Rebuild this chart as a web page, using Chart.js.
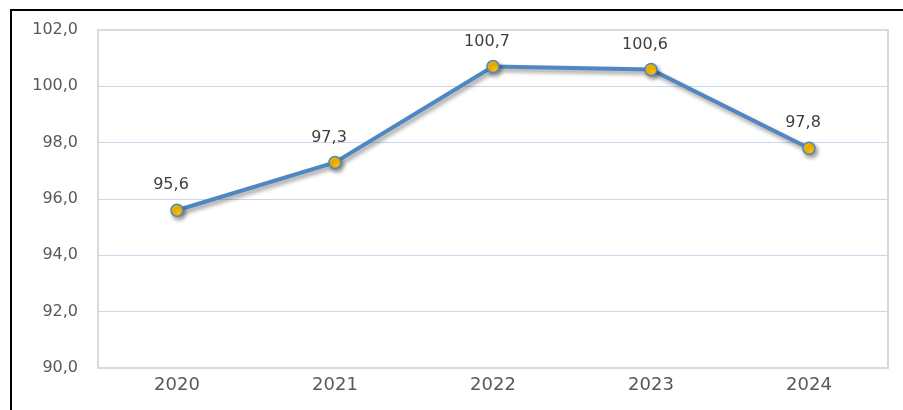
<!DOCTYPE html>
<html><head><meta charset="utf-8">
<script src="https://cdn.jsdelivr.net/npm/chart.js@4/dist/chart.umd.min.js"></script>
<style>
html,body{margin:0;padding:0;background:#fff;}
#wrap{position:relative;width:903px;height:410px;}
#frame{position:absolute;left:10px;top:9px;right:-5px;bottom:-5px;border-left:2px solid #000;border-top:2px solid #000;pointer-events:none;}
</style>
</head><body>
<div id="wrap"><canvas id="c" width="903" height="410"></canvas><div id="frame"></div></div>
<script>
const categories = ['2020','2021','2022','2023','2024'];
const values = [95.6, 97.3, 100.7, 100.6, 97.8];
const yTicks = [90, 92, 94, 96, 98, 100, 102];

const fmt = v => v.toFixed(1).replace('.', ',');

const shadowPlugin = {
  id: 'shadowLine',
  beforeDatasetDraw(chart) {
    const ctx = chart.ctx;
    ctx.save();
    ctx.shadowColor = 'rgba(0,0,0,0.4)';
    ctx.shadowBlur = 4;
    ctx.shadowOffsetX = 2;
    ctx.shadowOffsetY = 3;
  },
  afterDatasetDraw(chart) { chart.ctx.restore(); }
};

const framePlugin = {
  id: 'plotFrame',
  beforeDatasetsDraw(chart) {
    const a = chart.chartArea, ctx = chart.ctx;
    ctx.save();
    ctx.strokeStyle = '#d9d9d9';
    ctx.lineWidth = 2;
    ctx.strokeRect(a.left, a.top, a.right - a.left, a.bottom - a.top);
    ctx.restore();
  }
};

const labelPlugin = {
  id: 'valueLabels',
  afterDatasetsDraw(chart) {
    const ctx = chart.ctx;
    const meta = chart.getDatasetMeta(0);
    ctx.save();
    ctx.font = '16px "DejaVu Sans"';
    ctx.fillStyle = '#404040';
    ctx.textAlign = 'center';
    ctx.textBaseline = 'middle';
    meta.data.forEach((pt, i) => {
      ctx.fillText(fmt(values[i]), pt.x - 6, pt.y - 25);
    });
    ctx.restore();
  }
};

new Chart(document.getElementById('c'), {
  type: 'line',
  data: {
    labels: categories,
    datasets: [{
      data: values,
      borderColor: '#4f87c2',
      borderWidth: 4,
      pointBackgroundColor: '#ffc000',
      pointBorderColor: '#4f87c2',
      pointBorderWidth: 1.5,
      pointRadius: 6,
      tension: 0
    }]
  },
  options: {
    responsive: false,
    animation: false,
    events: [],
    layout: { padding: { left: 10, top: 30, right: 15, bottom: 0 } },
    plugins: { legend: { display: false }, tooltip: { enabled: false } },
    scales: {
      x: {
        offset: true,
        grid: { display: false, drawTicks: false },
        border: { display: false },
        ticks: { color: '#595959', font: { family: 'DejaVu Sans', size: 18 }, padding: 7 },
        afterFit: s => { s.height = 42; }
      },
      y: {
        min: 90, max: 102,
        afterBuildTicks: s => { s.ticks = yTicks.map(v => ({ value: v })); },
        grid: {
          drawTicks: false,
          color: c => (c.tick && (c.tick.value === 90 || c.tick.value === 102)) ? 'rgba(0,0,0,0)' : '#c9d7ec',
          lineWidth: 1
        },
        border: { display: false },
        ticks: { color: '#595959', font: { family: 'DejaVu Sans', size: 16 }, padding: 20, callback: v => fmt(v) },
        afterFit: s => { s.width = 88; }
      }
    }
  },
  plugins: [framePlugin, shadowPlugin, labelPlugin]
});
</script>
</body></html>
